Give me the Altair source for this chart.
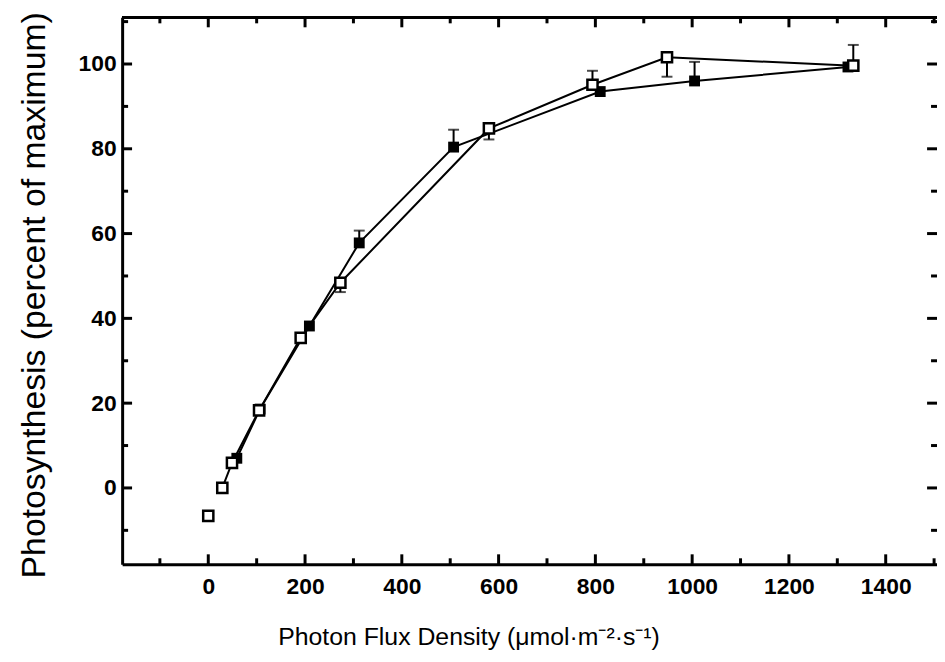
import altair as alt
import pandas as pd

# ---- data ----
open_x = [0, 29, 49, 105, 191, 273, 580, 794, 948, 1333]
open_y = [-6.6, 0.0, 5.9, 18.3, 35.4, 48.4, 84.8, 95.1, 101.6, 99.6]
filled_x = [59, 107, 209, 312, 507, 810, 1005, 1322]
filled_y = [7.0, 18.6, 38.2, 57.8, 80.4, 93.5, 96.0, 99.3]

err_x = [312, 507, 1005, 273, 580, 794, 948, 1333]
err_start = [57.8, 80.4, 96.0, 48.4, 84.8, 95.1, 101.6, 99.6]
err_end = [60.7, 84.5, 100.5, 46.2, 82.2, 98.4, 97.0, 104.5]

x_major = [0, 200, 400, 600, 800, 1000, 1200, 1400]
x_minor = [-100, 100, 300, 500, 700, 900, 1100, 1300, 1500]
y_major = [0, 20, 40, 60, 80, 100]
y_minor = [-10, 10, 30, 50, 70, 90, 110]

x_title = "Photon Flux Density (\u03bcmol\u00b7m\u207b\u00b2\u00b7s\u207b\u00b9)"
y_title = "Photosynthesis (percent of maximum)"

W, H = 821, 551
FONT = "Liberation Sans"

xs = alt.Scale(domain=[-178, 1506], nice=False, zero=False)
ys = alt.Scale(domain=[-18, 111], nice=False, zero=False)

X = alt.X("x:Q", scale=xs, axis=alt.Axis(
    values=x_major, format="d", ticks=False, tickSize=0, grid=False, domain=True,
    domainColor="black", domainWidth=3, labelFont=FONT, labelFontSize=23,
    labelFontWeight="bold", labelColor="black", labelPadding=11,
    title=x_title, titleFont=FONT, titleFontSize=25, titleFontWeight="normal",
    titleColor="black", titleX=349, titleY=81, titleAnchor="middle",
    titleAlign="center", titleBaseline="alphabetic"))
Y = alt.Y("y:Q", scale=ys, axis=alt.Axis(
    values=y_major, format="d", ticks=False, tickSize=0, grid=False, domain=True,
    domainColor="black", domainWidth=3, labelFont=FONT, labelFontSize=23,
    labelFontWeight="bold", labelColor="black", labelPadding=6,
    title=y_title, titleFont=FONT, titleFontSize=34, titleFontWeight="normal",
    titleColor="black", titleX=-78, titleY=H / 2 + 4, titleAngle=-90,
    titleAlign="center", titleBaseline="alphabetic"))

df_open = pd.DataFrame({"x": open_x, "y": open_y})
df_filled = pd.DataFrame({"x": filled_x, "y": filled_y})
df_err = pd.DataFrame({"x": err_x, "y": err_start, "y2": err_end})
df_cap = pd.DataFrame({"x": err_x, "y": err_end})

xmaj = pd.DataFrame({"x": x_major})
xmin = pd.DataFrame({"x": x_minor})
ymaj = pd.DataFrame({"y": y_major})
ymin = pd.DataFrame({"y": y_minor})

def xticks(df, length):
    bottom = alt.Chart(df).mark_rule(color="black", strokeWidth=3).encode(
        x=X, y=alt.value(H), y2=alt.value(H - length))
    top = alt.Chart(df).mark_rule(color="black", strokeWidth=3).encode(
        x=X, y=alt.value(0), y2=alt.value(length))
    return bottom + top

def yticks(df, length):
    left = alt.Chart(df).mark_rule(color="black", strokeWidth=3).encode(
        y=Y, x=alt.value(0), x2=alt.value(length))
    right = alt.Chart(df).mark_rule(color="black", strokeWidth=3).encode(
        y=Y, x=alt.value(W - length), x2=alt.value(W))
    return left + right

top_line = alt.Chart(xmaj).mark_rule(color="black", strokeWidth=3).encode(
    x=alt.value(0), x2=alt.value(W), y=alt.value(0))

err_rule = alt.Chart(df_err).mark_rule(color="black", strokeWidth=2).encode(
    x=X, y=Y, y2="y2:Q")
err_cap = alt.Chart(df_cap).mark_tick(color="black", thickness=2, size=11,
                                      orient="horizontal").encode(x=X, y=Y)

line_filled = alt.Chart(df_filled).mark_line(color="black", strokeWidth=2).encode(
    x=X, y=Y, order="x:Q")
line_open = alt.Chart(df_open).transform_filter("datum.x > 0").mark_line(
    color="black", strokeWidth=2).encode(x=X, y=Y, order="x:Q")

pts_filled = alt.Chart(df_filled).mark_point(
    shape="square", size=120, filled=True, color="black", opacity=1).encode(x=X, y=Y)
pts_open = alt.Chart(df_open).mark_point(
    shape="square", size=105, filled=True, fill="white", stroke="black",
    strokeWidth=2.5, opacity=1).encode(x=X, y=Y)

chart = alt.layer(
    xticks(xmaj, 10), xticks(xmin, 6), yticks(ymaj, 10), yticks(ymin, 6), top_line,
    err_rule, err_cap, line_filled, line_open, pts_filled, pts_open
).properties(
    width=W, height=H,
    autosize=alt.AutoSizeParams(type="none"),
    padding={"left": 115, "top": 7, "right": 0, "bottom": 90},
).configure_view(stroke=None).configure(background="white")

chart.save("out.html", embed_options={"renderer": "svg", "actions": False})
